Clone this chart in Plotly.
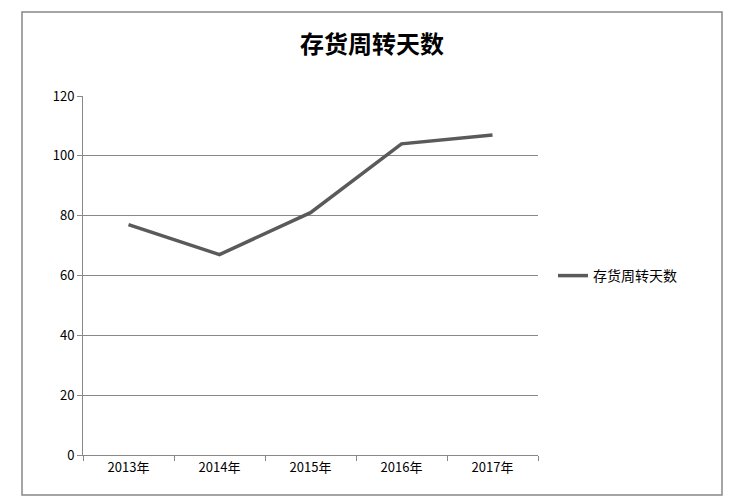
import plotly.graph_objects as go

years = ["2013年", "2014年", "2015年", "2016年", "2017年"]
values = [77, 67, 81, 104, 107]
series_name = "存货周转天数"

fig = go.Figure(go.Scatter(x=years, y=values, mode="lines", name=series_name,
                           line=dict(color="#5a5a5a", width=3.5)))
W, H = 743, 502
off = 8
l, t = 83 - off, 96 - off
r = W - (538 - off)
b = H - (455 - off)
pw, ph = W - l - r, H - t - b
fig.update_layout(
    width=W, height=H, margin=dict(l=l, r=r, t=t, b=b),
    paper_bgcolor="white", plot_bgcolor="white",
    font=dict(family="Noto Sans CJK SC", size=13, color="black"),
    title=dict(text="<b>存货周转天数</b>", x=(372 - off) / W, xanchor="center",
               y=1 - (45 - off) / H, yanchor="middle",
               font=dict(size=24, family="Noto Sans CJK SC", color="black")),
    showlegend=True,
    legend=dict(x=(553 - 83) / pw, y=(455 - 276) / ph, xanchor="left", yanchor="middle",
                font=dict(size=14)),
    xaxis=dict(showgrid=False, showline=True, linecolor="#888", ticks="outside",
               tickson="boundaries", ticklen=5, tickcolor="#888", range=[-0.5, 4.5]),
    yaxis=dict(range=[0, 120], dtick=20, showgrid=True, gridcolor="#888", gridwidth=1,
               showline=True, linecolor="#888", ticks="outside", ticklen=5,
               tickcolor="#888", zeroline=False),
)
fig.add_shape(type="rect", xref="paper", yref="paper",
              x0=(22 - 83) / pw, x1=(722 - 83) / pw,
              y0=(455 - 495) / ph, y1=(455 - 12) / ph,
              line=dict(color="#888", width=1.5))
fig.write_html("out.html")
